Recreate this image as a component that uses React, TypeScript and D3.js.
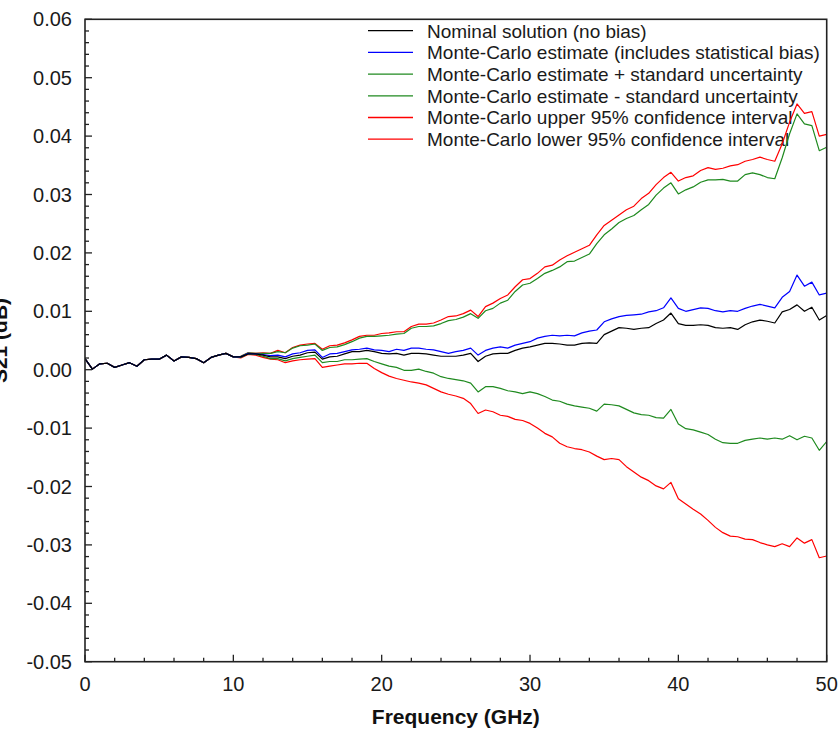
import React from "react";
import * as d3 from "d3";

const freqGHz = [
  0, 0.5, 1, 1.5, 2, 2.5, 3, 3.5, 4, 4.5, 5, 5.5, 6, 6.5, 7, 7.5, 8, 8.5, 9, 9.5,
  10, 10.5, 11, 11.5, 12, 12.5, 13, 13.5, 14, 14.5, 15, 15.5, 16, 16.5, 17, 17.5, 18, 18.5, 19, 19.5,
  20, 20.5, 21, 21.5, 22, 22.5, 23, 23.5, 24, 24.5, 25, 25.5, 26, 26.5, 27, 27.5, 28, 28.5, 29, 29.5,
  30, 30.5, 31, 31.5, 32, 32.5, 33, 33.5, 34, 34.5, 35, 35.5, 36, 36.5, 37, 37.5, 38, 38.5, 39, 39.5,
  40, 40.5, 41, 41.5, 42, 42.5, 43, 43.5, 44, 44.5, 45, 45.5, 46, 46.5, 47, 47.5, 48, 48.5, 49, 49.5, 50,
];

const nominal = [
  0.0019, 0.0001, 0.0010, 0.0011, 0.0004, 0.0008, 0.0012, 0.0006, 0.0017, 0.0018, 0.0018, 0.0025, 0.0015, 0.0022, 0.0021, 0.0019, 0.0012, 0.0021, 0.0025, 0.0028,
  0.0022, 0.0022, 0.0027, 0.0027, 0.0025, 0.0022, 0.0022, 0.0019, 0.0023, 0.0025, 0.0029, 0.0030, 0.0018, 0.0022, 0.0023, 0.0027, 0.0031, 0.0031, 0.0033, 0.0031,
  0.0028, 0.0027, 0.0028, 0.0025, 0.0028, 0.0028, 0.0027, 0.0025, 0.0023, 0.0023, 0.0023, 0.0025, 0.0028, 0.0014, 0.0023, 0.0027, 0.0028, 0.0028, 0.0033, 0.0037,
  0.0039, 0.0042, 0.0045, 0.0045, 0.0044, 0.0042, 0.0042, 0.0045, 0.0046, 0.0045, 0.0060, 0.0066, 0.0072, 0.0071, 0.0069, 0.0071, 0.0072, 0.0079, 0.0085, 0.0097,
  0.0079, 0.0076, 0.0076, 0.0077, 0.0076, 0.0072, 0.0071, 0.0072, 0.0069, 0.0077, 0.0082, 0.0085, 0.0083, 0.0080, 0.0099, 0.0103, 0.0111, 0.0100, 0.0107, 0.0085, 0.0093,
];

const mcEstimate = [
  0.0019, 0.0001, 0.0010, 0.0011, 0.0004, 0.0008, 0.0012, 0.0006, 0.0017, 0.0018, 0.0018, 0.0025, 0.0015, 0.0022, 0.0021, 0.0019, 0.0012, 0.0021, 0.0025, 0.0028,
  0.0022, 0.0022, 0.0028, 0.0027, 0.0026, 0.0024, 0.0025, 0.0022, 0.0027, 0.0029, 0.0033, 0.0034, 0.0021, 0.0027, 0.0028, 0.0031, 0.0034, 0.0035, 0.0037, 0.0034,
  0.0033, 0.0031, 0.0035, 0.0033, 0.0037, 0.0037, 0.0035, 0.0034, 0.0031, 0.0028, 0.0031, 0.0033, 0.0037, 0.0025, 0.0033, 0.0037, 0.0039, 0.0037, 0.0042, 0.0045,
  0.0048, 0.0054, 0.0057, 0.0059, 0.0058, 0.0059, 0.0058, 0.0063, 0.0066, 0.0068, 0.0082, 0.0087, 0.0091, 0.0093, 0.0094, 0.0095, 0.0099, 0.0101, 0.0106, 0.0123,
  0.0105, 0.0100, 0.0103, 0.0106, 0.0105, 0.0101, 0.0099, 0.0101, 0.0100, 0.0105, 0.0109, 0.0112, 0.0109, 0.0106, 0.0124, 0.0134, 0.0162, 0.0143, 0.0150, 0.0128, 0.0131,
];

const mcPlusStd = [
  0.0019, 0.0001, 0.0010, 0.0011, 0.0004, 0.0008, 0.0012, 0.0006, 0.0017, 0.0018, 0.0018, 0.0025, 0.0015, 0.0022, 0.0021, 0.0019, 0.0012, 0.0021, 0.0025, 0.0028,
  0.0022, 0.0023, 0.0029, 0.0028, 0.0028, 0.0028, 0.0031, 0.0029, 0.0037, 0.0041, 0.0042, 0.0044, 0.0033, 0.0038, 0.0039, 0.0043, 0.0048, 0.0054, 0.0057, 0.0057,
  0.0058, 0.0059, 0.0061, 0.0062, 0.0071, 0.0074, 0.0074, 0.0075, 0.0079, 0.0084, 0.0086, 0.0090, 0.0096, 0.0088, 0.0101, 0.0105, 0.0114, 0.0119, 0.0134, 0.0145,
  0.0148, 0.0156, 0.0165, 0.0170, 0.0176, 0.0185, 0.0186, 0.0192, 0.0198, 0.0216, 0.0231, 0.0241, 0.0252, 0.0259, 0.0264, 0.0274, 0.0283, 0.0299, 0.0311, 0.0320,
  0.0301, 0.0308, 0.0313, 0.0321, 0.0325, 0.0325, 0.0326, 0.0323, 0.0323, 0.0334, 0.0337, 0.0334, 0.0329, 0.0327, 0.0363, 0.0404, 0.0438, 0.0421, 0.0418, 0.0375, 0.0381,
];

const mcMinusStd = [
  0.0019, 0.0001, 0.0010, 0.0011, 0.0004, 0.0008, 0.0012, 0.0006, 0.0017, 0.0018, 0.0018, 0.0025, 0.0015, 0.0022, 0.0021, 0.0019, 0.0012, 0.0021, 0.0025, 0.0028,
  0.0022, 0.0021, 0.0027, 0.0026, 0.0023, 0.0019, 0.0019, 0.0015, 0.0019, 0.0021, 0.0023, 0.0025, 0.0012, 0.0014, 0.0014, 0.0017, 0.0017, 0.0018, 0.0019, 0.0014,
  0.0010, 0.0006, 0.0004, -0.0001, -0.0001, 0.0001, -0.0003, -0.0006, -0.0012, -0.0015, -0.0017, -0.0019, -0.0023, -0.0038, -0.0029, -0.0029, -0.0032, -0.0036, -0.0038, -0.0041,
  -0.0038, -0.0041, -0.0046, -0.0052, -0.0054, -0.0059, -0.0062, -0.0064, -0.0066, -0.0071, -0.0059, -0.0060, -0.0062, -0.0068, -0.0074, -0.0077, -0.0078, -0.0082, -0.0083, -0.0068,
  -0.0093, -0.0101, -0.0103, -0.0107, -0.0111, -0.0119, -0.0125, -0.0126, -0.0126, -0.0121, -0.0119, -0.0117, -0.0119, -0.0117, -0.0119, -0.0113, -0.0120, -0.0114, -0.0117, -0.0138, -0.0123,
];

const mcUpper95 = [
  0.0019, 0.0001, 0.0010, 0.0011, 0.0004, 0.0008, 0.0012, 0.0006, 0.0017, 0.0018, 0.0018, 0.0025, 0.0015, 0.0022, 0.0021, 0.0019, 0.0012, 0.0021, 0.0025, 0.0028,
  0.0022, 0.0023, 0.0029, 0.0028, 0.0029, 0.0028, 0.0033, 0.0029, 0.0038, 0.0042, 0.0044, 0.0045, 0.0035, 0.0041, 0.0042, 0.0046, 0.0051, 0.0057, 0.0059, 0.0059,
  0.0062, 0.0063, 0.0065, 0.0065, 0.0074, 0.0078, 0.0078, 0.0080, 0.0085, 0.0091, 0.0092, 0.0096, 0.0102, 0.0091, 0.0108, 0.0114, 0.0122, 0.0128, 0.0142, 0.0154,
  0.0156, 0.0165, 0.0176, 0.0179, 0.0188, 0.0195, 0.0201, 0.0207, 0.0213, 0.0231, 0.0247, 0.0256, 0.0265, 0.0274, 0.0280, 0.0293, 0.0302, 0.0317, 0.0329, 0.0338,
  0.0323, 0.0329, 0.0332, 0.0341, 0.0346, 0.0343, 0.0345, 0.0349, 0.0351, 0.0357, 0.0360, 0.0364, 0.0360, 0.0357, 0.0387, 0.0424, 0.0455, 0.0439, 0.0442, 0.0400, 0.0403,
];

const mcLower95 = [
  0.0019, 0.0001, 0.0010, 0.0011, 0.0004, 0.0008, 0.0012, 0.0006, 0.0017, 0.0018, 0.0018, 0.0025, 0.0015, 0.0022, 0.0021, 0.0019, 0.0012, 0.0021, 0.0025, 0.0028,
  0.0022, 0.0020, 0.0026, 0.0025, 0.0021, 0.0018, 0.0017, 0.0012, 0.0015, 0.0017, 0.0018, 0.0019, 0.0004, 0.0006, 0.0008, 0.0010, 0.0010, 0.0011, 0.0011, 0.0002,
  -0.0005, -0.0011, -0.0015, -0.0018, -0.0021, -0.0023, -0.0026, -0.0032, -0.0038, -0.0042, -0.0045, -0.0049, -0.0058, -0.0075, -0.0069, -0.0072, -0.0078, -0.0080, -0.0085, -0.0087,
  -0.0092, -0.0100, -0.0109, -0.0115, -0.0126, -0.0132, -0.0135, -0.0137, -0.0141, -0.0148, -0.0154, -0.0152, -0.0154, -0.0166, -0.0175, -0.0184, -0.0190, -0.0199, -0.0204, -0.0193,
  -0.0221, -0.0230, -0.0239, -0.0247, -0.0258, -0.0270, -0.0279, -0.0285, -0.0286, -0.0290, -0.0291, -0.0296, -0.0300, -0.0303, -0.0298, -0.0303, -0.0288, -0.0297, -0.0291, -0.0322, -0.0319,
];

const xTickValues = [0, 10, 20, 30, 40, 50];
const xTickLabels = ["0", "10", "20", "30", "40", "50"];
const yTickValues = [-0.05, -0.04, -0.03, -0.02, -0.01, 0, 0.01, 0.02, 0.03, 0.04, 0.05, 0.06];
const yTickLabels = ["-0.05", "-0.04", "-0.03", "-0.02", "-0.01", "0.00", "0.01", "0.02", "0.03", "0.04", "0.05", "0.06"];

const legendLabels = [
  "Nominal solution (no bias)",
  "Monte-Carlo estimate (includes statistical bias)",
  "Monte-Carlo estimate + standard uncertainty",
  "Monte-Carlo estimate - standard uncertainty",
  "Monte-Carlo upper 95% confidence interval",
  "Monte-Carlo lower 95% confidence interval",
];
const seriesColors = ["#000000", "#0000ff", "#1f8a1f", "#1f8a1f", "#ff0000", "#ff0000"];
const seriesData = [nominal, mcEstimate, mcPlusStd, mcMinusStd, mcUpper95, mcLower95];
const drawOrder = [5, 4, 3, 2, 1, 0];

const FONT = "'Liberation Sans', Arial, Helvetica, sans-serif";

export default function App() {
  const W = 839;
  const H = 729;
  const left = 85;
  const right = 826.7;
  const top = 19.3;
  const bottom = 661.7;

  const x = d3.scaleLinear().domain([0, 50]).range([left, right]);
  const y = d3.scaleLinear().domain([-0.05, 0.06]).range([bottom, top]);

  const line = d3
    .line<number>()
    .x((_, i) => x(freqGHz[i]))
    .y((d) => y(d));

  const xMinor = d3.range(0, 50.001, 2).filter((v) => v % 10 !== 0);
  const yMinor = d3.range(-0.05, 0.0601, 0.002).filter((v) => Math.abs(Math.round(v * 100) - v * 100) > 1e-6);

  const legendX0 = 368;
  const legendX1 = 413;
  const legendTextX = 427;
  const legendY0 = 30.7;
  const legendDy = 21.7;

  return (
    <svg
      width={W}
      height={H}
      style={{ position: "absolute", left: 0, top: 0, background: "#fff" }}
      fontFamily={FONT}
    >
      <defs>
        <clipPath id="plotClip">
          <rect x={left} y={top} width={right - left} height={bottom - top} />
        </clipPath>
      </defs>
      <rect x={0} y={0} width={W} height={H} fill="#fff" />

      {/* legend */}
      {legendLabels.map((lab, i) => (
        <g key={"lg" + i}>
          <line
            x1={legendX0}
            x2={legendX1}
            y1={legendY0 + i * legendDy}
            y2={legendY0 + i * legendDy}
            stroke={seriesColors[i]}
            strokeWidth={1.3}
          />
          <text x={legendTextX} y={legendY0 + i * legendDy} dy="0.36em" fontSize={19} fill="#1a1a1a">
            {lab}
          </text>
        </g>
      ))}

      {/* data lines */}
      <g clipPath="url(#plotClip)">
        {drawOrder.map((k) => (
          <path
            key={k}
            d={line(seriesData[k]) || ""}
            fill="none"
            stroke={seriesColors[k]}
            strokeWidth={1.2}
            strokeLinejoin="round"
          />
        ))}
      </g>

      {/* frame */}
      <rect x={left} y={top} width={right - left} height={bottom - top} fill="none" stroke="#222" strokeWidth={1.6} />

      {/* x ticks */}
      {xTickValues.map((v) => (
        <line key={"xM" + v} x1={x(v)} x2={x(v)} y1={bottom} y2={bottom - 7} stroke="#222" strokeWidth={1.3} />
      ))}
      {xMinor.map((v) => (
        <line key={"xm" + v} x1={x(v)} x2={x(v)} y1={bottom} y2={bottom - 4} stroke="#222" strokeWidth={1.3} />
      ))}
      {xTickValues.map((v, i) => (
        <text key={"xl" + v} x={x(v)} y={691} textAnchor="middle" fontSize={20} fill="#1a1a1a">
          {xTickLabels[i]}
        </text>
      ))}

      {/* y ticks */}
      {yTickValues.map((v) => (
        <line key={"yM" + v} x1={left} x2={left + 7} y1={y(v)} y2={y(v)} stroke="#222" strokeWidth={1.3} />
      ))}
      {yMinor.map((v, i) => (
        <line key={"ym" + i} x1={left} x2={left + 4} y1={y(v)} y2={y(v)} stroke="#222" strokeWidth={1.3} />
      ))}
      {yTickValues.map((v, i) => (
        <text key={"yl" + i} x={72} y={y(v)} dy="0.35em" textAnchor="end" fontSize={20} fill="#1a1a1a">
          {yTickLabels[i]}
        </text>
      ))}

      {/* axis titles */}
      <text x={(left + right) / 2} y={723.5} textAnchor="middle" fontSize={21} fontWeight="bold" fill="#111">
        Frequency (GHz)
      </text>
      <text
        transform={`translate(7, ${(top + bottom) / 2}) rotate(-90)`}
        textAnchor="middle"
        fontSize={21}
        fontWeight="bold"
        fill="#111"
      >
        S21 (dB)
      </text>
    </svg>
  );
}
